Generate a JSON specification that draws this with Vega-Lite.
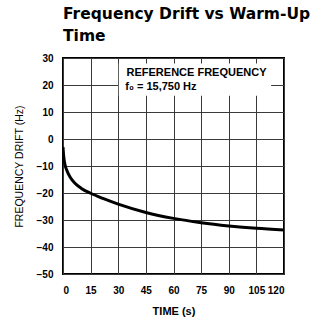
{
  "$schema": "https://vega.github.io/schema/vega-lite/v6.json",
  "autosize": "none",
  "padding": {"left": 63, "top": 58, "right": 32, "bottom": 48},
  "width": 221,
  "height": 216,
  "background": "white",
  "title": {
    "text": ["Frequency Drift vs Warm-Up", "Time"],
    "anchor": "start",
    "frame": "group",
    "font": "DejaVu Sans",
    "fontSize": 15.5,
    "fontWeight": "bold",
    "lineHeight": 22,
    "color": "black",
    "offset": 9
  },
  "config": {
    "view": {"stroke": "black", "strokeWidth": 2}
  },
  "encoding": {
    "x": {
      "field": "t", "type": "quantitative",
      "scale": {"domain": [0, 120], "nice": false},
      "axis": {
        "grid": true, "gridColor": "#3a3a3a", "gridWidth": 1, "gridOpacity": 1,
        "ticks": false, "domain": false, "labelOverlap": false,
        "values": [0, 15, 30, 45, 60, 75, 90, 105, 120],
        "title": "TIME (s)", "titleFont": "Liberation Sans", "titleColor": "black", "titleFontSize": 11, "titleFontWeight": "bold", "titlePadding": 10,
        "labelFont": "Liberation Sans", "labelFontWeight": "bold", "labelColor": "black", "labelFontSize": 10, "labelPadding": 11
      }
    },
    "y": {
      "field": "drift", "type": "quantitative",
      "scale": {"domain": [-50, 30], "nice": false},
      "axis": {
        "grid": true, "gridColor": "#3a3a3a", "gridWidth": 1, "gridOpacity": 1,
        "ticks": false, "domain": false, "labelOverlap": false,
        "values": [-50, -40, -30, -20, -10, 0, 10, 20, 30],
        "title": "FREQUENCY DRIFT (Hz)", "titleFont": "Liberation Sans", "titleColor": "black", "titleFontSize": 10.5, "titleFontWeight": "normal", "titlePadding": 12,
        "labelFont": "Liberation Sans", "labelFontWeight": "bold", "labelColor": "black", "labelFontSize": 10, "labelPadding": 10
      }
    }
  },
  "layer": [
    {
      "data": {"values": [{"t": 30.3, "t2": 113, "drift": 16, "drift2": 28}]},
      "mark": {"type": "rect", "color": "white", "strokeWidth": 0},
      "encoding": {
        "x2": {"field": "t2"},
        "y2": {"field": "drift2"}
      }
    },
    {
      "data": {
        "values": [
          {"t": 0, "drift": -3},
          {"t": 0.4, "drift": -6.5},
          {"t": 1, "drift": -9.3},
          {"t": 2, "drift": -11.5},
          {"t": 4, "drift": -14.3},
          {"t": 6.5, "drift": -16.4},
          {"t": 10, "drift": -18.3},
          {"t": 15, "drift": -20.1},
          {"t": 22, "drift": -22.1},
          {"t": 30, "drift": -24.1},
          {"t": 45, "drift": -27.2},
          {"t": 60, "drift": -29.4},
          {"t": 75, "drift": -31},
          {"t": 90, "drift": -32.2},
          {"t": 105, "drift": -33.1},
          {"t": 120, "drift": -33.7}
        ]
      },
      "mark": {"type": "line", "color": "black", "strokeWidth": 3, "interpolate": "monotone", "clip": true}
    },
    {
      "data": {
        "values": [
          {"t": 34.5, "drift": 24.3, "label": "REFERENCE FREQUENCY"},
          {"t": 33.8, "drift": 19.3, "label": "f₀ = 15,750 Hz"}
        ]
      },
      "mark": {"type": "text", "align": "left", "baseline": "middle", "font": "Liberation Sans", "fontWeight": "bold", "fontSize": 11, "color": "black"},
      "encoding": {
        "text": {"field": "label"}
      }
    }
  ]
}
